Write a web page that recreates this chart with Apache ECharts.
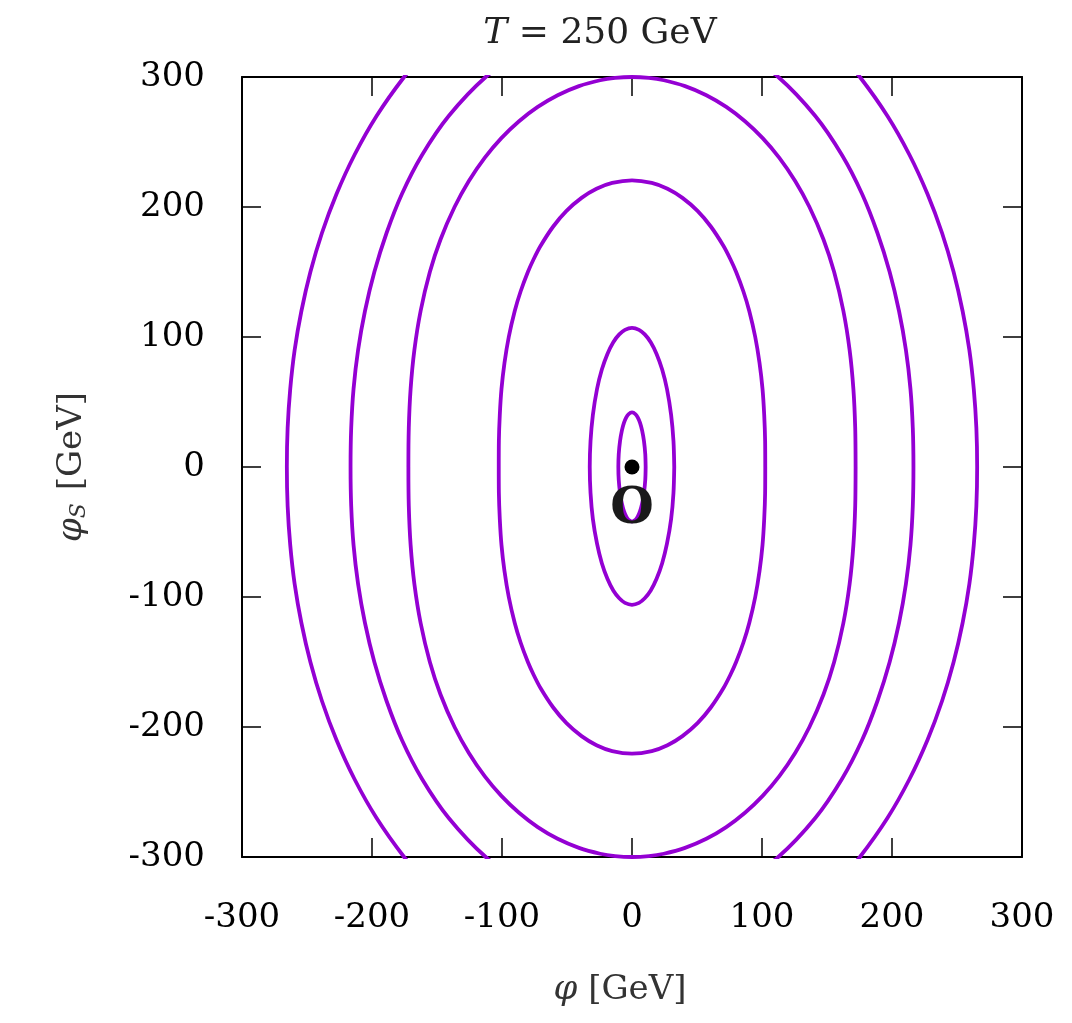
<!DOCTYPE html>
<html>
<head>
<meta charset="utf-8">
<script src="https://cdn.jsdelivr.net/npm/echarts@6/dist/echarts.min.js"></script>
<style>
  html, body { margin: 0; padding: 0; background: #fff; }
  #chart { width: 1072px; height: 1023px; }
</style>
</head>
<body>
<div id="chart"></div>
<script>
// axis ticks
const xTicks = [-300, -200, -100, 0, 100, 200, 300]
const yTicks = [-300, -200, -100, 0, 100, 200, 300]

// contour lines of the potential, [phi, phiS] in GeV
const contour1 = [
  [10.5, 0], [10.2, 10], [9.2, 20], [7.8, 28], [6.2, 34], [4.5, 38], [2.8, 40.5], [0, 42],
  [-2.8, 40.5], [-4.5, 38], [-6.2, 34], [-7.8, 28], [-9.2, 20], [-10.2, 10], [-10.5, 0],
  [-10.2, -10], [-9.2, -20], [-7.8, -28], [-6.2, -34], [-4.5, -38], [-2.8, -40.5], [0, -42],
  [2.8, -40.5], [4.5, -38], [6.2, -34], [7.8, -28], [9.2, -20], [10.2, -10], [10.5, 0],
]
const contour2 = [
  [32.5, 0], [31.9, 20], [30.1, 40], [26.9, 60], [23.2, 75], [18.9, 87], [14.4, 96],
  [9.8, 102], [5.4, 105.5], [0, 107],
  [-5.4, 105.5], [-9.8, 102], [-14.4, 96], [-18.9, 87], [-23.2, 75], [-26.9, 60],
  [-30.1, 40], [-31.9, 20], [-32.5, 0],
  [-31.9, -20], [-30.1, -40], [-26.9, -59], [-23.2, -74], [-18.9, -86], [-14.4, -95],
  [-9.8, -101], [-5.4, -104.5], [0, -106],
  [5.4, -104.5], [9.8, -101], [14.4, -95], [18.9, -86], [23.2, -74], [26.9, -59],
  [30.1, -40], [31.9, -20], [32.5, 0],
]
const contour3 = [
  [102.5, 0], [102.4, 20], [101.7, 40], [100.4, 60], [98.1, 80], [94.8, 100], [90.2, 120],
  [85.7, 135], [80.1, 150], [75.6, 160], [70.4, 170], [60.6, 185], [50.4, 197],
  [38.8, 207], [27.3, 214], [15.2, 218.5], [0, 220.5],
  [-15.2, 218.5], [-27.3, 214], [-38.8, 207], [-50.4, 197], [-60.6, 185], [-70.4, 170],
  [-75.6, 160], [-80.1, 150], [-85.7, 135], [-90.2, 120], [-94.8, 100], [-98.1, 80],
  [-100.4, 60], [-101.7, 40], [-102.4, 20], [-102.5, 0],
  [-102.4, -20], [-101.7, -40], [-100.4, -60], [-98.1, -80], [-94.8, -100], [-90.2, -120],
  [-85.7, -135], [-80.1, -150], [-75.6, -160], [-70.4, -170], [-60.6, -185], [-50.4, -197],
  [-38.8, -207], [-27.3, -214], [-15.2, -218.5], [0, -220.5],
  [15.2, -218.5], [27.3, -214], [38.8, -207], [50.4, -197], [60.6, -185], [70.4, -170],
  [75.6, -160], [80.1, -150], [85.7, -135], [90.2, -120], [94.8, -100], [98.1, -80],
  [100.4, -60], [101.7, -40], [102.4, -20], [102.5, 0],
]
const contour4 = [
  [172, 0], [171.7, 30], [170.3, 60], [167.4, 90], [162.6, 120], [155.5, 150], [147.3, 175],
  [136.5, 200], [125.5, 220], [113.2, 238], [100.5, 253], [86.9, 266], [72.5, 277],
  [57.2, 286], [40.8, 293], [24.5, 297.5], [13, 299.3], [0, 300],
  [-13, 299.3], [-24.5, 297.5], [-40.8, 293], [-57.2, 286], [-72.5, 277], [-86.9, 266],
  [-100.5, 253], [-113.2, 238], [-125.5, 220], [-136.5, 200], [-147.3, 175], [-155.5, 150],
  [-162.6, 120], [-167.4, 90], [-170.3, 60], [-171.7, 30], [-172, 0],
  [-171.7, -30], [-170.3, -60], [-167.4, -90], [-162.6, -120], [-155.5, -150], [-147.3, -175],
  [-136.5, -200], [-125.5, -220], [-113.2, -238], [-100.5, -253], [-86.9, -266], [-72.5, -277],
  [-57.2, -286], [-40.8, -293], [-24.5, -297.5], [-13, -299.3], [0, -300],
  [13, -299.3], [24.5, -297.5], [40.8, -293], [57.2, -286], [72.5, -277], [86.9, -266],
  [100.5, -253], [113.2, -238], [125.5, -220], [136.5, -200], [147.3, -175], [155.5, -150],
  [162.6, -120], [167.4, -90], [170.3, -60], [171.7, -30], [172, 0],
]
// outer contours leave the frame; their first/last points sit just outside it
const contour5Right = [
  [84, 320], [112.5, 300], [141, 270], [161.5, 240], [177, 210], [188.8, 180], [198.2, 150],
  [205.4, 120], [210.7, 90], [214.2, 60], [216, 30], [216.5, 0],
  [216, -30], [214.2, -60], [210.7, -90], [205.4, -120], [198.2, -150], [188.8, -180],
  [177, -210], [161.5, -240], [141, -270], [112.5, -300], [84, -320],
]
const contour5Left = [
  [-84, 320], [-112.5, 300], [-141, 270], [-161.5, 240], [-177, 210], [-188.8, 180], [-198.2, 150],
  [-205.4, 120], [-210.7, 90], [-214.2, 60], [-216, 30], [-216.5, 0],
  [-216, -30], [-214.2, -60], [-210.7, -90], [-205.4, -120], [-198.2, -150], [-188.8, -180],
  [-177, -210], [-161.5, -240], [-141, -270], [-112.5, -300], [-84, -320],
]
const contour6Right = [
  [158, 320], [175.3, 300], [196.5, 270], [213.5, 240], [227.3, 210], [238.5, 180], [247.4, 150],
  [254.3, 120], [259.5, 90], [262.9, 60], [264.9, 30], [265.5, 0],
  [264.9, -30], [262.9, -60], [259.5, -90], [254.3, -120], [247.4, -150], [238.5, -180],
  [227.3, -210], [213.5, -240], [196.5, -270], [175.3, -300], [158, -320],
]
const contour6Left = [
  [-158, 320], [-175.3, 300], [-196.5, 270], [-213.5, 240], [-227.3, 210], [-238.5, 180], [-247.4, 150],
  [-254.3, 120], [-259.5, 90], [-262.9, 60], [-264.9, 30], [-265.5, 0],
  [-264.9, -30], [-262.9, -60], [-259.5, -90], [-254.3, -120], [-247.4, -150], [-238.5, -180],
  [-227.3, -210], [-213.5, -240], [-196.5, -270], [-175.3, -300], [-158, -320],
]
const minimum = [[0, 0]]
const originLabel = [[0, -33]]

const contours = [
  contour1, contour2, contour3, contour4,
  contour5Right, contour5Left, contour6Right, contour6Left,
]

const FONT = 'DejaVu Serif'
const LINE = '#9400d3'

const chart = echarts.init(document.getElementById('chart'), null, { renderer: 'canvas' })

const baseAxis = {
  type: 'value',
  min: -300,
  max: 300,
  interval: 100,
  splitLine: { show: false },
  axisLine: { show: true, onZero: false, lineStyle: { color: '#000', width: 2 } },
  axisTick: { show: true, inside: true, length: 19, lineStyle: { color: '#000', width: 1.5 } },
}

chart.setOption({
  animation: false,
  grid: { left: 242, right: 50, top: 77, bottom: 166 },
  graphic: [
    {
      type: 'text',
      x: 600,
      y: 34,
      style: {
        text: '{i|T} = 250 GeV',
        font: '36px "DejaVu Serif"',
        fill: '#222',
        align: 'center',
        verticalAlign: 'middle',
        rich: {
          i: { fontFamily: FONT, fontSize: 36, fontStyle: 'italic', fill: '#222' },
        },
      },
    },
  ],
  xAxis: [
    {
      ...baseAxis,
      position: 'bottom',
      name: '{i|φ} [GeV]',
      nameLocation: 'middle',
      nameGap: 116,
      nameTextStyle: {
        fontFamily: FONT, fontSize: 34, color: '#333', padding: [0, 24, 0, 0],
        rich: { i: { fontFamily: FONT, fontSize: 34, fontStyle: 'italic', color: '#333' } },
      },
      axisLabel: {
        margin: 44, fontFamily: FONT, fontSize: 34, color: '#000',
        formatter: (v) => (xTicks.includes(v) ? `${v}` : ''),
      },
    },
    {
      ...baseAxis,
      position: 'top',
      axisLabel: { show: false },
    },
  ],
  yAxis: [
    {
      ...baseAxis,
      position: 'left',
      name: '{i|φ}{s|S} [GeV]',
      nameLocation: 'middle',
      nameGap: 152,
      nameTextStyle: {
        fontFamily: FONT, fontSize: 34, color: '#333',
        rich: {
          i: { fontFamily: FONT, fontSize: 34, fontStyle: 'italic', color: '#333' },
          s: { fontFamily: FONT, fontSize: 22, fontStyle: 'italic', color: '#333', padding: [14, 2, 0, 0] },
        },
      },
      axisLabel: {
        margin: 37, fontFamily: FONT, fontSize: 34, color: '#000',
        formatter: (v) => (yTicks.includes(v) ? `${v}` : ''),
      },
    },
    {
      ...baseAxis,
      position: 'right',
      axisLabel: { show: false },
    },
  ],
  series: [
    ...contours.map((pts) => ({
      type: 'line',
      data: pts,
      smooth: 0.3,
      showSymbol: false,
      lineStyle: { color: LINE, width: 3.8 },
      z: 2,
    })),
    {
      type: 'scatter',
      data: minimum,
      symbolSize: 15,
      itemStyle: { color: '#000', opacity: 1 },
      z: 4,
    },
    {
      type: 'scatter',
      data: originLabel,
      symbolSize: 2,
      itemStyle: { color: 'rgba(0,0,0,0)', opacity: 1 },
      label: {
        show: true,
        position: 'inside',
        formatter: 'O',
        fontFamily: FONT,
        fontSize: 50,
        fontWeight: 'bold',
        color: '#1a1a1a',
        opacity: 1,
      },
      z: 5,
    },
  ],
})
</script>
</body>
</html>
